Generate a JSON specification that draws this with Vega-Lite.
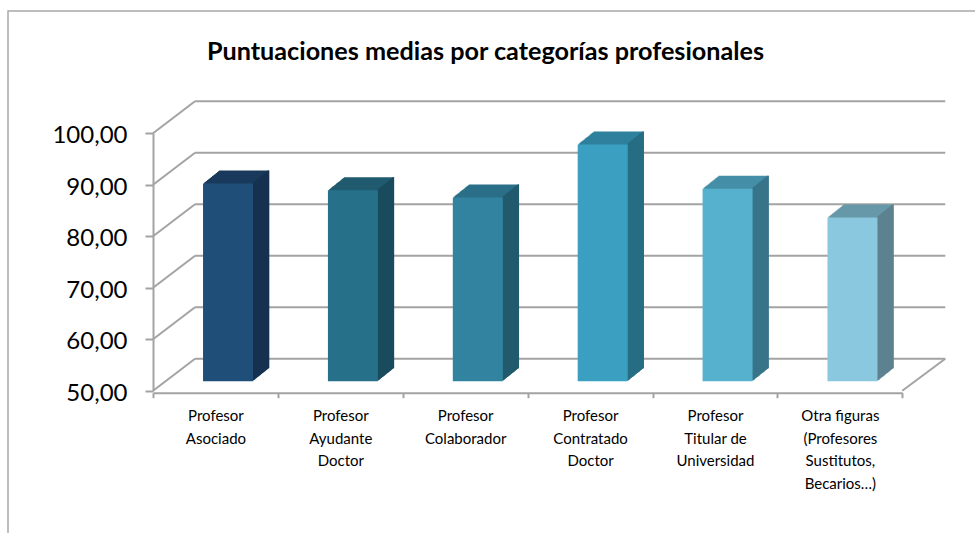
{
"$schema":"https://vega.github.io/schema/vega-lite/v6.json",
"width":969,"height":524,
"autosize":{"type":"none"},
"padding":{"left":8,"top":11,"right":0,"bottom":0},
"background":"white",
"config":{"view":{"stroke":"#a8a8a8","strokeWidth":1.5},"font":"Lato"},
"title":{"text":"Puntuaciones medias por categorías profesionales","font":"Lato","fontSize":25.2,"fontWeight":"bold","color":"#000000","anchor":"middle","frame":"group","dx":-7,"offset":-54},
"datasets":{
"bars":[
{"category":"Profesor\nAsociado","value":88.4},
{"category":"Profesor\nAyudante\nDoctor","value":87.1},
{"category":"Profesor\nColaborador","value":85.7},
{"category":"Profesor\nContratado\nDoctor","value":96.0},
{"category":"Profesor\nTitular de\nUniversidad","value":87.4},
{"category":"Otra figuras\n(Profesores\nSustitutos,\nBecarios…)","value":81.8}],
"grid":[{"v":50},{"v":60},{"v":70},{"v":80},{"v":90},{"v":100}],
"floor":[{"v":50}]
},
"resolve":{"scale":{"color":"independent"}},
"layer":[
{"data":{"name":"grid"},
 "mark":{"type":"rule","color":"#a3a3a3","strokeWidth":2,"xOffset":-20.4,"x2Offset":105.4,"yOffset":-32},
 "encoding":{
  "x":{"datum":"Profesor\nAsociado","type":"nominal"},
  "x2":{"datum":"Otra figuras\n(Profesores\nSustitutos,\nBecarios…)"},
  "y":{"field":"v","type":"quantitative","scale":{"domain":[50,100],"range":[379.7,122.3]},
   "axis":{"title":null,"values":[50,60,70,80,90,100],"labelExpr":"replace(format(datum.value,'.2f'),'.',',')","labelFont":"Lato","labelFontSize":24,"labelColor":"#000000","labelPadding":18,"labelOffset":2.5,"tickSize":8,"tickColor":"#a3a3a3","tickWidth":2,"domainColor":"#a3a3a3","domainWidth":2,"grid":false,"offset":-145}}}},
{"data":{"name":"grid"},
 "mark":{"type":"rule","color":"#a3a3a3","strokeWidth":2,"xOffset":-62.4,"x2Offset":-20.4,"y2Offset":-32},
 "encoding":{
  "x":{"datum":"Profesor\nAsociado","type":"nominal"},
  "x2":{"datum":"Profesor\nAsociado"},
  "y":{"field":"v","type":"quantitative"},
  "y2":{"field":"v"}}},
{"data":{"name":"floor"},
 "mark":{"type":"rule","color":"#a3a3a3","strokeWidth":2,"xOffset":62.4,"x2Offset":105.4,"y2Offset":-32},
 "encoding":{
  "x":{"datum":"Otra figuras\n(Profesores\nSustitutos,\nBecarios…)","type":"nominal"},
  "x2":{"datum":"Otra figuras\n(Profesores\nSustitutos,\nBecarios…)"},
  "y":{"field":"v","type":"quantitative"},
  "y2":{"field":"v"}}},
{"data":{"name":"bars"},
 "resolve":{"scale":{"color":"independent"}},
 "encoding":{
  "x":{"field":"category","type":"nominal","sort":null,
   "scale":{"domain":["Profesor\nAsociado","Profesor\nAyudante\nDoctor","Profesor\nColaborador","Profesor\nContratado\nDoctor","Profesor\nTitular de\nUniversidad","Otra figuras\n(Profesores\nSustitutos,\nBecarios…)"],"range":[145,894.3],"paddingInner":0,"paddingOuter":0},
   "axis":{"title":null,"labelAngle":0,"labelAlign":"center","labelBaseline":"top","labelExpr":"split(datum.label,'\\n')","labelFont":"Lato","labelFontSize":15,"labelColor":"#000000","labelLineHeight":22.5,"labelPadding":11,"labelLimit":0,"tickBand":"extent","tickSize":5,"tickColor":"#a3a3a3","tickWidth":2,"domainColor":"#a3a3a3","domainWidth":2,"grid":false,"offset":-142.3}},
  "y":{"field":"value","type":"quantitative","stack":null},
  "y2":{"datum":50}},
 "layer":[
 {"encoding":{"color":{"field":"category","type":"nominal","sort":null,"legend":null,"scale":{"range":["#1a3a5c","#205b6f","#2a6f87","#2f819c","#458fa7","#6698a8"]}}},
  "layer":[
  {"mark":{"type":"bar","width":50,"xOffset":28.6,"yOffset":-22.5,"y2Offset":-22.5}},
  {"mark":{"type":"bar","width":50,"xOffset":27.6,"yOffset":-21.7,"y2Offset":-21.7}},
  {"mark":{"type":"bar","width":50,"xOffset":26.6,"yOffset":-20.9,"y2Offset":-20.9}},
  {"mark":{"type":"bar","width":50,"xOffset":25.6,"yOffset":-20.1,"y2Offset":-20.1}},
  {"mark":{"type":"bar","width":50,"xOffset":24.6,"yOffset":-19.3,"y2Offset":-19.3}},
  {"mark":{"type":"bar","width":50,"xOffset":23.6,"yOffset":-18.5,"y2Offset":-18.5}},
  {"mark":{"type":"bar","width":50,"xOffset":22.6,"yOffset":-17.7,"y2Offset":-17.7}},
  {"mark":{"type":"bar","width":50,"xOffset":21.6,"yOffset":-16.9,"y2Offset":-16.9}},
  {"mark":{"type":"bar","width":50,"xOffset":20.6,"yOffset":-16.1,"y2Offset":-16.1}},
  {"mark":{"type":"bar","width":50,"xOffset":19.6,"yOffset":-15.3,"y2Offset":-15.3}},
  {"mark":{"type":"bar","width":50,"xOffset":18.6,"yOffset":-14.5,"y2Offset":-14.5}},
  {"mark":{"type":"bar","width":50,"xOffset":17.6,"yOffset":-13.7,"y2Offset":-13.7}},
  {"mark":{"type":"bar","width":50,"xOffset":16.6,"yOffset":-12.9,"y2Offset":-12.9}},
  {"mark":{"type":"bar","width":50,"xOffset":15.6,"yOffset":-12.1,"y2Offset":-12.1}},
  {"mark":{"type":"bar","width":50,"xOffset":14.6,"yOffset":-11.3,"y2Offset":-11.3}},
  {"mark":{"type":"bar","width":50,"xOffset":13.6,"yOffset":-10.5,"y2Offset":-10.5}}
  ]},
 {"encoding":{"color":{"field":"category","type":"nominal","sort":null,"legend":null,"scale":{"range":["#17324f","#1b4c5d","#225a6d","#276c83","#37748a","#5d828f"]}}},
  "layer":[
  {"mark":{"type":"rule","strokeWidth":1.7,"xOffset":53.0,"yOffset":-22.5,"y2Offset":-22.5}},
  {"mark":{"type":"rule","strokeWidth":1.7,"xOffset":52.0,"yOffset":-21.7,"y2Offset":-21.7}},
  {"mark":{"type":"rule","strokeWidth":1.7,"xOffset":51.0,"yOffset":-20.9,"y2Offset":-20.9}},
  {"mark":{"type":"rule","strokeWidth":1.7,"xOffset":50.0,"yOffset":-20.1,"y2Offset":-20.1}},
  {"mark":{"type":"rule","strokeWidth":1.7,"xOffset":49.0,"yOffset":-19.3,"y2Offset":-19.3}},
  {"mark":{"type":"rule","strokeWidth":1.7,"xOffset":48.0,"yOffset":-18.5,"y2Offset":-18.5}},
  {"mark":{"type":"rule","strokeWidth":1.7,"xOffset":47.0,"yOffset":-17.7,"y2Offset":-17.7}},
  {"mark":{"type":"rule","strokeWidth":1.7,"xOffset":46.0,"yOffset":-16.9,"y2Offset":-16.9}},
  {"mark":{"type":"rule","strokeWidth":1.7,"xOffset":45.0,"yOffset":-16.1,"y2Offset":-16.1}},
  {"mark":{"type":"rule","strokeWidth":1.7,"xOffset":44.0,"yOffset":-15.3,"y2Offset":-15.3}},
  {"mark":{"type":"rule","strokeWidth":1.7,"xOffset":43.0,"yOffset":-14.5,"y2Offset":-14.5}},
  {"mark":{"type":"rule","strokeWidth":1.7,"xOffset":42.0,"yOffset":-13.7,"y2Offset":-13.7}},
  {"mark":{"type":"rule","strokeWidth":1.7,"xOffset":41.0,"yOffset":-12.9,"y2Offset":-12.9}},
  {"mark":{"type":"rule","strokeWidth":1.7,"xOffset":40.0,"yOffset":-12.1,"y2Offset":-12.1}},
  {"mark":{"type":"rule","strokeWidth":1.7,"xOffset":39.0,"yOffset":-11.3,"y2Offset":-11.3}},
  {"mark":{"type":"rule","strokeWidth":1.7,"xOffset":38.0,"yOffset":-10.5,"y2Offset":-10.5}}
  ]},
 {"encoding":{"color":{"field":"category","type":"nominal","sort":null,"legend":null,"scale":{"range":["#1f4e79","#27708a","#32839f","#3a9fc1","#55b1cd","#89c8de"]}}},
  "mark":{"type":"bar","width":50,"xOffset":12.6,"yOffset":-9.5,"y2Offset":-9.5}}
 ]}
]
}
